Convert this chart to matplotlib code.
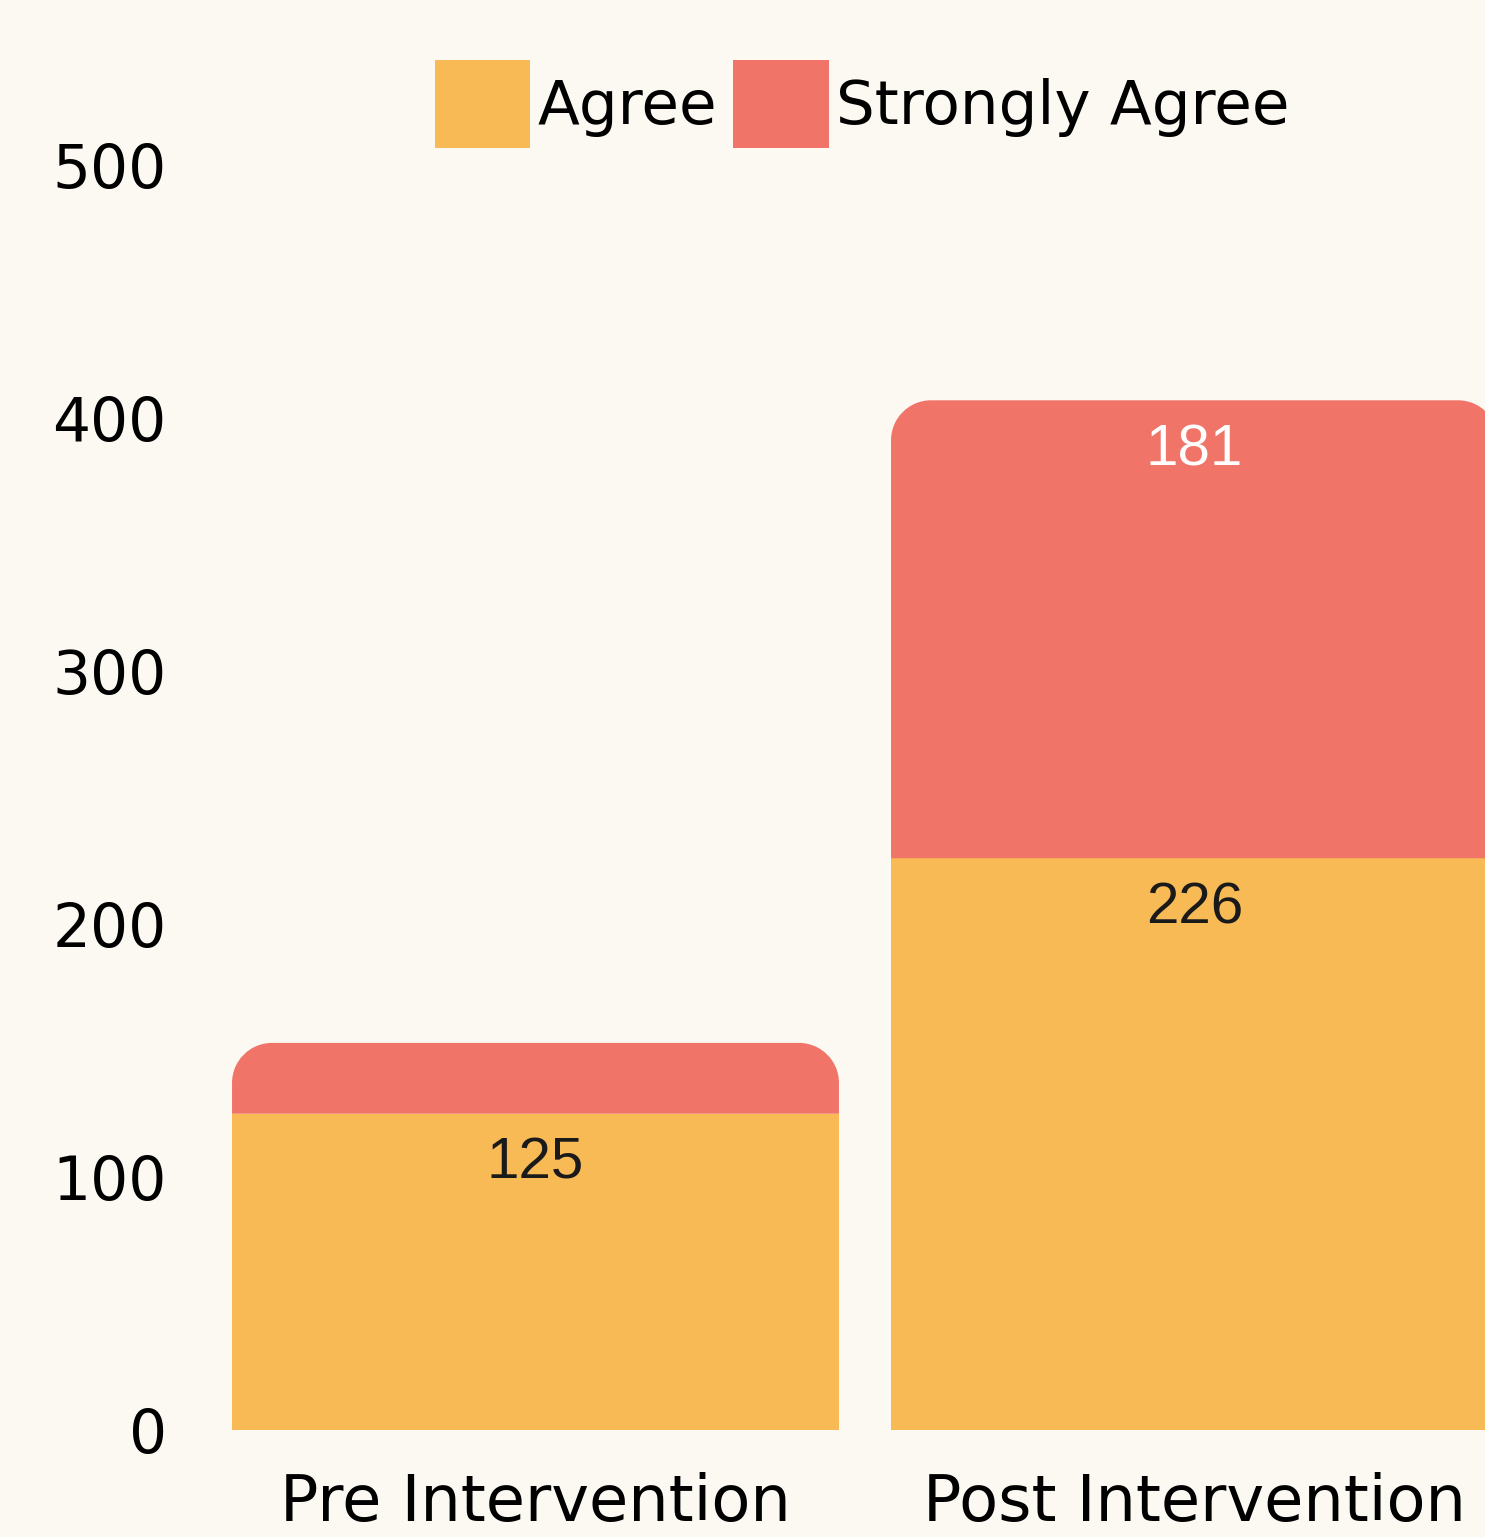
import matplotlib
matplotlib.use("Agg")
import matplotlib.pyplot as plt
from matplotlib.path import Path
from matplotlib.patches import PathPatch, Patch

categories = ["Pre Intervention", "Post Intervention"]
agree = [125, 226]
strongly_agree = [28, 181]
yticks = [0, 100, 200, 300, 400, 500]

c_agree = "#F8BA55"
c_strong = "#F17468"
bg = "#FCF9F2"

W, H = 1485, 1537
fig = plt.figure(figsize=(W / 100, H / 100), dpi=100, facecolor=bg)
# axes: left 200px, right 1485px, bottom y=1430px, top y=165px
ax = fig.add_axes([200 / W, 1 - 1430 / H, (1485 - 200) / W, (1430 - 165) / H])
ax.set_facecolor(bg)

x = list(range(len(categories)))
width = 0.921
ax.set_xlim((200 - 535.5) / 659, (1485 - 535.5) / 659)
ax.set_ylim(0, 500)

b1 = ax.bar(x, agree, width=width, color=c_agree, label="Agree", zorder=2)
b2 = ax.bar(x, strongly_agree, width=width, bottom=agree, color=c_strong,
            label="Strongly Agree", zorder=2)

# round top corners of top segments
fig.canvas.draw()
inv = ax.transData.inverted()
r_px = 40
x0d, y0d = ax.transData.transform((0, 0))
rx = abs(inv.transform((x0d + r_px, y0d))[0] - 0)
ry = abs(inv.transform((x0d, y0d + r_px))[1] - 0)
k = 0.5523
for rect in b2.patches:
    bx, by = rect.get_x(), rect.get_y()
    bw, bh = rect.get_width(), rect.get_height()
    top = by + bh
    verts = [
        (bx, by), (bx + bw, by), (bx + bw, top - ry),
        (bx + bw, top - ry + k * ry), (bx + bw - rx + k * rx, top), (bx + bw - rx, top),
        (bx + rx, top),
        (bx + rx - k * rx, top), (bx, top - ry + k * ry), (bx, top - ry),
        (bx, by),
    ]
    codes = [Path.MOVETO, Path.LINETO, Path.LINETO,
             Path.CURVE4, Path.CURVE4, Path.CURVE4,
             Path.LINETO,
             Path.CURVE4, Path.CURVE4, Path.CURVE4,
             Path.CLOSEPOLY]
    pp = PathPatch(Path(verts, codes), facecolor=c_strong, edgecolor="none", zorder=2)
    ax.add_patch(pp)
    rect.set_visible(False)

# value labels
lbl_off = 50 / 2.53
for xi, a, s in zip(x, agree, strongly_agree):
    ax.text(xi, a - lbl_off, str(a), ha="center", va="center",
            fontsize=42, family="Liberation Sans", color="#1a1a1a", zorder=3)
    if s >= 60:
        ax.text(xi, a + s - lbl_off, str(s), ha="center", va="center",
                fontsize=42, family="Liberation Sans", color="white", zorder=3)

for sp in ax.spines.values():
    sp.set_visible(False)
ax.set_yticks(yticks)
ax.set_yticklabels([str(t) for t in yticks])
ax.set_xticks(x)
ax.set_xticklabels(categories)
ax.tick_params(axis="y", length=0, pad=24, labelsize=43, labelcolor="black")
ax.tick_params(axis="x", length=0, pad=30, labelsize=46, labelcolor="black")

handles = [Patch(facecolor=c_agree), Patch(facecolor=c_strong)]
fig.legend(handles, ["Agree", "Strongly Agree"], loc="center",
           bbox_to_anchor=(862 / W, 1 - 104 / H), ncol=2, frameon=False,
           fontsize=44, handlelength=1.57, handleheight=1.85,
           handletextpad=0.12, columnspacing=0.25, borderpad=0)

fig.savefig("out.png", dpi=100, facecolor=bg)
